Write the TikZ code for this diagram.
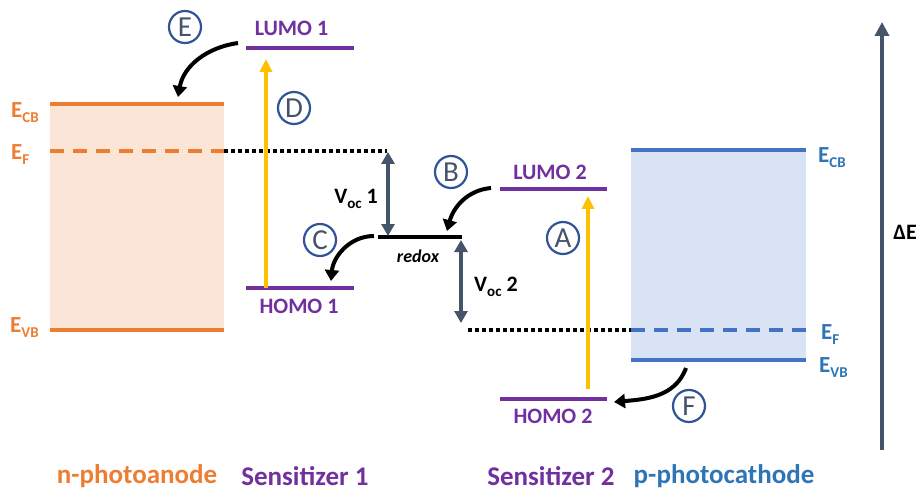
\documentclass[tikz,border=0pt]{standalone}
\usepackage{fontspec}
\setmainfont{Carlito}
\usetikzlibrary{arrows.meta}
\definecolor{orng}{HTML}{ED7D31}
\definecolor{orngfill}{HTML}{FBE5D6}
\definecolor{purp}{HTML}{7030A0}
\definecolor{blu}{HTML}{4472C4}
\definecolor{blutxt}{HTML}{2E75B6}
\definecolor{blufill}{HTML}{DAE3F3}
\definecolor{ylw}{HTML}{FFC000}
\definecolor{slate}{HTML}{44546A}
\definecolor{circ}{HTML}{2F5597}
\newcommand\bandsub[1]{\raisebox{-5pt}{\fontsize{15}{15}\selectfont #1}}
\newcommand\vocsub{\raisebox{-5pt}{\fontsize{15}{15}\selectfont oc}}
\begin{document}
\begin{tikzpicture}[x=1pt,y=-1pt,
  level/.style={line width=4.5pt},
  lbl/.style={inner sep=0pt,font=\fontsize{22}{24}\selectfont\bfseries},
  bandlbl/.style={inner sep=0pt,font=\fontsize{23}{26}\selectfont\bfseries},
  botlbl/.style={inner sep=0pt,font=\fontsize{27}{30}\selectfont\bfseries},
  stepcirc/.style={circle,draw=circ,line width=2.2pt,minimum size=32pt,inner sep=0pt,text=slate,font=\fontsize{29}{30}\selectfont},
  transfer/.style={black,line width=4pt,-{Triangle[length=11pt,width=14pt]}},
  excite/.style={ylw,line width=3.5pt,-{Triangle[length=13pt,width=12pt]}},
  volt/.style={slate,line width=4pt,{Triangle[length=12pt,width=13pt]}-{Triangle[length=12pt,width=13pt]}},
  fermi/.style={black,line width=3.5pt,dash pattern=on 3.5pt off 3.5pt},
]
\useasboundingbox (0,0) rectangle (919,492);
% n-photoanode
\fill[orngfill] (50,104) rectangle (224,330);
\coordinate (cbL1) at (50,104); \coordinate (cbR1) at (224,104);
\coordinate (vbL1) at (50,330); \coordinate (vbR1) at (224,330);
\coordinate (efL1) at (50,151); \coordinate (efR1) at (224,151);
\draw[level,orng] (cbL1) -- (cbR1);
\draw[level,orng] (vbL1) -- (vbR1);
\draw[level,orng,dash pattern=on 14pt off 9pt] (efL1) -- (efR1);
\node[bandlbl,orng,anchor=base west] (ecb1) at (11,118) {E\bandsub{CB}};
\node[bandlbl,orng,anchor=base west] (ef1) at (11,160) {E\bandsub{F}};
\node[bandlbl,orng,anchor=base west] (evb1) at (10,332) {E\bandsub{VB}};
% p-photocathode
\fill[blufill] (631,150) rectangle (806,360);
\coordinate (cbL2) at (631,150); \coordinate (cbR2) at (806,150);
\coordinate (vbL2) at (631,360); \coordinate (vbR2) at (806,360);
\coordinate (efL2) at (631,330); \coordinate (efR2) at (806,330);
\draw[level,blu] (cbL2) -- (cbR2);
\draw[level,blu] (vbL2) -- (vbR2);
\draw[level,blu,dash pattern=on 14pt off 9pt] (efL2) -- (efR2);
\node[bandlbl,blutxt,anchor=base west] (ecb2) at (818,163) {E\bandsub{CB}};
\node[bandlbl,blutxt,anchor=base west] (ef2) at (821,339) {E\bandsub{F}};
\node[bandlbl,blutxt,anchor=base west] (evb2) at (819,372) {E\bandsub{VB}};
% Fermi level extensions
\coordinate (ef1end) at (387,151);
\coordinate (ef2start) at (468,330);
\draw[fermi] (efR1) -- (ef1end);
\draw[fermi] (ef2start) -- (efL2);
% Sensitizer 1
\coordinate (l1L) at (246,48); \coordinate (l1R) at (354,48);
\coordinate (h1L) at (246,288); \coordinate (h1R) at (354,288);
\draw[level,purp] (l1L) -- (l1R);
\draw[level,purp] (h1L) -- (h1R);
\node[lbl,purp] (lumo1) at (291.5,28.5) {LUMO 1};
\node[lbl,purp] (homo1) at (299,306) {HOMO 1};
% Sensitizer 2
\coordinate (l2L) at (500,189); \coordinate (l2R) at (607,189);
\coordinate (h2L) at (500,399); \coordinate (h2R) at (607,399);
\draw[level,purp] (l2L) -- (l2R);
\draw[level,purp] (h2L) -- (h2R);
\node[lbl,purp] (lumo2) at (550,172.5) {LUMO 2};
\node[lbl,purp] (homo2) at (553,416.5) {HOMO 2};
% redox
\coordinate (rxL) at (378,237); \coordinate (rxR) at (462,237);
\draw[black,line width=4pt] (rxL) -- (rxR);
\node[inner sep=0pt,font=\fontsize{18}{20}\selectfont\bfseries\itshape] (redox) at (418,256) {redox};
% excitations
\coordinate (d0) at (266,288); \coordinate (d1) at (266,59);
\draw[excite] (d0) -- (d1);
\coordinate (a0) at (588,389); \coordinate (a1) at (588,196);
\draw[excite] (a0) -- (a1);
% voltages
\coordinate (v1a) at (388,152); \coordinate (v1b) at (388,236);
\draw[volt] (v1a) -- (v1b);
\node[inner sep=0pt,font=\fontsize{22}{24}\selectfont\bfseries,anchor=base east] (voc1) at (378,204) {V\vocsub\ 1};
\coordinate (v2a) at (461,240); \coordinate (v2b) at (461,323);
\draw[volt] (v2a) -- (v2b);
\node[inner sep=0pt,font=\fontsize{22}{24}\selectfont\bfseries,anchor=base west] (voc2) at (474,291) {V\vocsub\ 2};
% transfer arrows
\coordinate (e0) at (238,43); \coordinate (e1) at (178,97);
\draw[transfer] (e0) to[out=188,in=80] (e1);
\coordinate (c0) at (374,236); \coordinate (c1) at (331,281);
\draw[transfer] (c0) to[out=180,in=85] (c1);
\coordinate (b0) at (491,188); \coordinate (b1) at (447,231);
\draw[transfer] (b0) to[out=185,in=75] (b1);
\coordinate (f0) at (686,368); \coordinate (f1) at (614,402);
\draw[transfer] (f0) to[out=250,in=5] (f1);
% step circles
\node[stepcirc] (cE) at (185,27) {E};
\node[stepcirc] (cD) at (294,108) {D};
\node[stepcirc] (cC) at (320,240) {C};
\node[stepcirc] (cB) at (451,172) {B};
\node[stepcirc] (cA) at (563,238) {A};
\node[stepcirc] (cF) at (689,406) {F};
% Delta E axis
\coordinate (dE0) at (882,450); \coordinate (dE1) at (882,22);
\draw[slate,line width=4pt,-{Triangle[length=14pt,width=14pt]}] (dE0) -- (dE1);
\node[inner sep=0pt,font=\fontsize{22}{24}\selectfont\bfseries] (dE) at (905,232) {ΔE};
% bottom labels
\node[botlbl,orng] (nph) at (137,476) {n-photoanode};
\node[botlbl,purp] (s1) at (305,476) {Sensitizer 1};
\node[botlbl,purp] (s2) at (551,476) {Sensitizer 2};
\node[botlbl,blutxt] (pph) at (724,476) {p-photocathode};
\end{tikzpicture}
\end{document}
